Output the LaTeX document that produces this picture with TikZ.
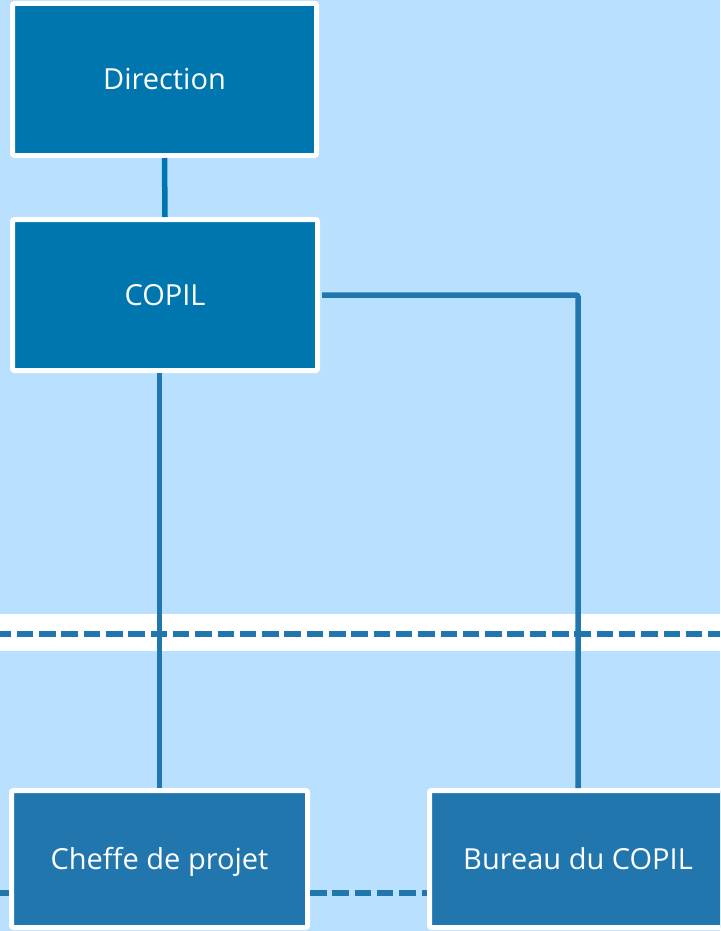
\documentclass[tikz,border=0pt]{standalone}
\usepackage{fontspec}
\setmainfont{Open Sans}
\definecolor{bgblue}{HTML}{B9E0FE}
\definecolor{topblue}{HTML}{0076AE}
\definecolor{lowblue}{HTML}{2176AE}
\begin{document}
\begin{tikzpicture}[x=1pt,y=-1pt,
  box/.style={draw=white, line width=5pt, rounded corners=2pt, inner sep=0pt,
    text=white, text height=21pt, text depth=0pt,
    font=\fontsize{29}{34}\selectfont},
  upper/.style={box, fill=topblue},
  lower/.style={box, fill=lowblue},
  link/.style={draw=lowblue, line width=5.5pt},
  dashlink/.style={link, dash pattern=on 16.5pt off 5.8pt}
]
% canvas and clipping frame
\useasboundingbox (0,0) rectangle (720,931);
\clip (0,0) rectangle (720,931);
\fill[bgblue] (0,0) rectangle (720,931);

% separating band with its dashed rule
\fill[white] (0,614) rectangle (720,651);
\coordinate (bandL) at (0,634);
\coordinate (bandR) at (720,634);
\draw[dashlink, dash phase=5.5pt] (bandL) -- (bandR);

% boxes
\node[upper, minimum width=304pt, minimum height=152pt] (dir) at (164.5,79.5) {Direction};
\node[upper, minimum width=305pt, minimum height=151pt] (copil) at (165,295) {COPIL};
\node[lower, minimum width=296pt, minimum height=137pt] (chef) at (159.5,859) {Cheffe de projet};
\node[lower, minimum width=297pt, minimum height=137pt] (bureau) at (578,859) {Bureau du COPIL};

% connectors
\draw[link, draw=topblue] (dir.south) -- (copil.north);
\draw[link] (copil.south -| chef.north) -- (chef.north);
\draw[link, rounded corners=2pt] ([xshift=2pt]copil.east) -| (bureau.north);
\coordinate (leftend) at (-10,893);
\draw[dashlink] (chef.east |- 0,893) -- (bureau.west |- 0,893);
\draw[dashlink] (chef.west |- 0,893) -- (leftend);
\end{tikzpicture}
\end{document}
